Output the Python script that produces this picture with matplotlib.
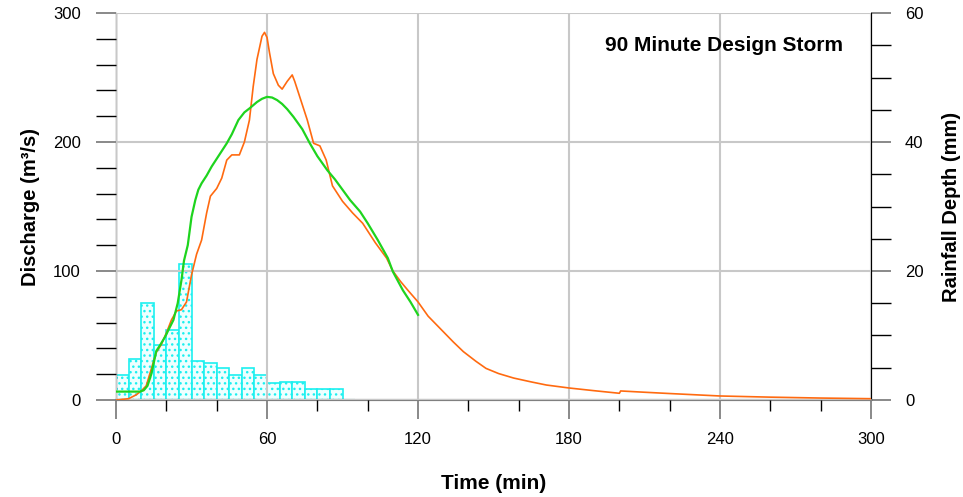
"""
Hyetograph and runoff hydrographs for the 90 minute design storm.
"""

import matplotlib
matplotlib.use("Agg")
import matplotlib.pyplot as plt
from matplotlib.ticker import MultipleLocator

plt.rcParams["font.family"] = ["Liberation Sans", "DejaVu Sans"]
plt.rcParams["hatch.linewidth"] = 1.0

# rainfall depth per 5 minute block (mm)
rain_start = [0, 5, 10, 15, 20, 25, 30, 35, 40, 45, 50, 55, 60, 65, 70, 75, 80, 85]
rain_depth = [3.8, 6.4, 15.0, 8.6, 10.8, 21.1, 6.0, 5.8, 4.9, 3.8, 4.9, 3.9,
              2.6, 2.8, 2.8, 1.75, 1.65, 1.65]
rain_end = 95

# hydrograph one (orange)
t_orange = [0, 5, 8, 10, 12, 14, 16, 18, 20, 22, 24, 26, 28, 30, 32, 34, 36,
            37.5, 40, 42, 44, 46, 49, 51, 53, 54.5, 56, 58, 59, 60, 61, 62.5,
            64.5, 66, 68, 70, 71, 73, 76, 78.5, 81, 83.5, 86, 90, 94, 98, 103,
            107.5, 110, 113, 116, 120, 124, 129, 134, 138, 143, 147, 152, 158,
            165, 171, 180, 190, 200, 200.5, 210, 220, 240, 260, 280, 300]
q_orange = [0, 1, 4, 7, 11, 24, 37, 43, 52, 62, 69, 70, 76, 97, 113, 124, 145,
            158, 164, 172, 186, 190, 190, 200, 217, 243, 264, 282, 285, 281, 269,
            253, 244, 241, 247, 252, 247, 235, 217, 199, 197, 186, 166, 154, 145,
            137, 122, 110, 100, 92, 85, 76, 65, 55, 45, 37.5, 30, 24.5, 20.5, 17,
            14, 11.6, 9.3, 7.2, 5.2, 7.0, 6.0, 5.0, 3.1, 2.2, 1.5, 1.0]

# hydrograph two (green)
t_green = [0, 9.5, 11, 12.5, 14, 16, 17.5, 19.5, 21, 22.8, 24.5, 26, 27, 28.5,
           30, 31.5, 32.7, 34, 36, 38, 40, 42, 44, 46, 48.6, 51, 53, 56, 58, 60,
           62, 64, 66, 68, 70.5, 74, 77, 80, 84, 87, 90, 93, 97, 100, 104, 108,
           110, 114, 117, 120]
q_green = [6.5, 6.5, 7.5, 11, 20, 38, 42.5, 49, 55, 62, 75, 93, 108, 120, 142,
           155, 163, 168, 174, 181, 187, 193, 199, 206, 217, 223, 226, 231, 233.5,
           235, 234.5, 232.5, 229.5, 225.5, 219.5, 210, 199, 189, 178, 171, 163,
           155, 146, 137, 124, 110, 99.5, 85, 76, 66]

fig = plt.figure(figsize=(9.63, 4.97), dpi=100)
ax = fig.add_axes([0.1205, 0.1952, 0.784, 0.7786])
ax2 = ax.twinx()

# rainfall bars on the right axis, drawn underneath the hydrographs
ax2.bar(rain_start, rain_depth, width=5, align="edge", facecolor="#EEFFFF",
        edgecolor="#1CF0F0", hatch="...", linewidth=1.2)
ax2.hlines(0, 0, rain_end, color="#138C8C", lw=1.5, zorder=3)
ax2.set_ylim(0, 60)
ax2.yaxis.set_major_locator(MultipleLocator(20))
ax2.yaxis.set_minor_locator(MultipleLocator(5))
ax2.tick_params(axis="y", which="both", direction="out", length=14.5,
                labelsize=12, pad=10)
ax2.tick_params(axis="y", which="major", color="#808080", width=1.3)
ax2.tick_params(axis="y", which="minor", color="black", width=1.0)
ax2.set_ylabel("Rainfall Depth (mm)", fontsize=14.5, fontweight="bold")
ax2.yaxis.set_label_coords(1.094, 0.5)

ax.set_zorder(ax2.get_zorder() + 1)
ax.patch.set_visible(False)

ax.plot(t_orange, q_orange, color="#FF6A10", lw=1.2, zorder=4)
ax.plot(t_green, q_green, color="#1ED41E", lw=1.6, zorder=5)

ax.set_xlim(0, 300)
ax.set_ylim(0, 300)
ax.xaxis.set_major_locator(MultipleLocator(60))
ax.xaxis.set_minor_locator(MultipleLocator(20))
ax.yaxis.set_major_locator(MultipleLocator(100))
ax.yaxis.set_minor_locator(MultipleLocator(20))
ax.grid(True, which="major", color="#C8C8C8", lw=1.5, zorder=1)
ax.set_axisbelow(False)

ax.tick_params(axis="x", which="major", direction="out", length=14,
               color="#808080", width=1.3, labelsize=12, pad=9)
ax.tick_params(axis="x", which="minor", direction="out", length=8,
               color="black", width=1.0)
ax.tick_params(axis="y", which="both", direction="out", length=14.5,
               labelsize=12, pad=11)
ax.tick_params(axis="y", which="major", color="#808080", width=1.3)
ax.tick_params(axis="y", which="minor", color="black", width=1.0)

for a in (ax, ax2):
    a.spines["top"].set_visible(False)
    a.spines["left"].set_color("black")
    a.spines["right"].set_color("black")
    a.spines["bottom"].set_color("#808080")
    a.spines["bottom"].set_linewidth(1.5)

ax.set_xlabel("Time (min)", fontsize=15, fontweight="bold")
ax.xaxis.set_label_coords(0.5, -0.19)
ax.set_ylabel("Discharge (m³/s)", fontsize=14.5, fontweight="bold")
ax.yaxis.set_label_coords(-0.101, 0.5)

ax.text(0.805, 0.917, "90 Minute Design Storm", transform=ax.transAxes,
        ha="center", va="center", fontsize=15, fontweight="bold")

fig.savefig("out.png", dpi=100)
